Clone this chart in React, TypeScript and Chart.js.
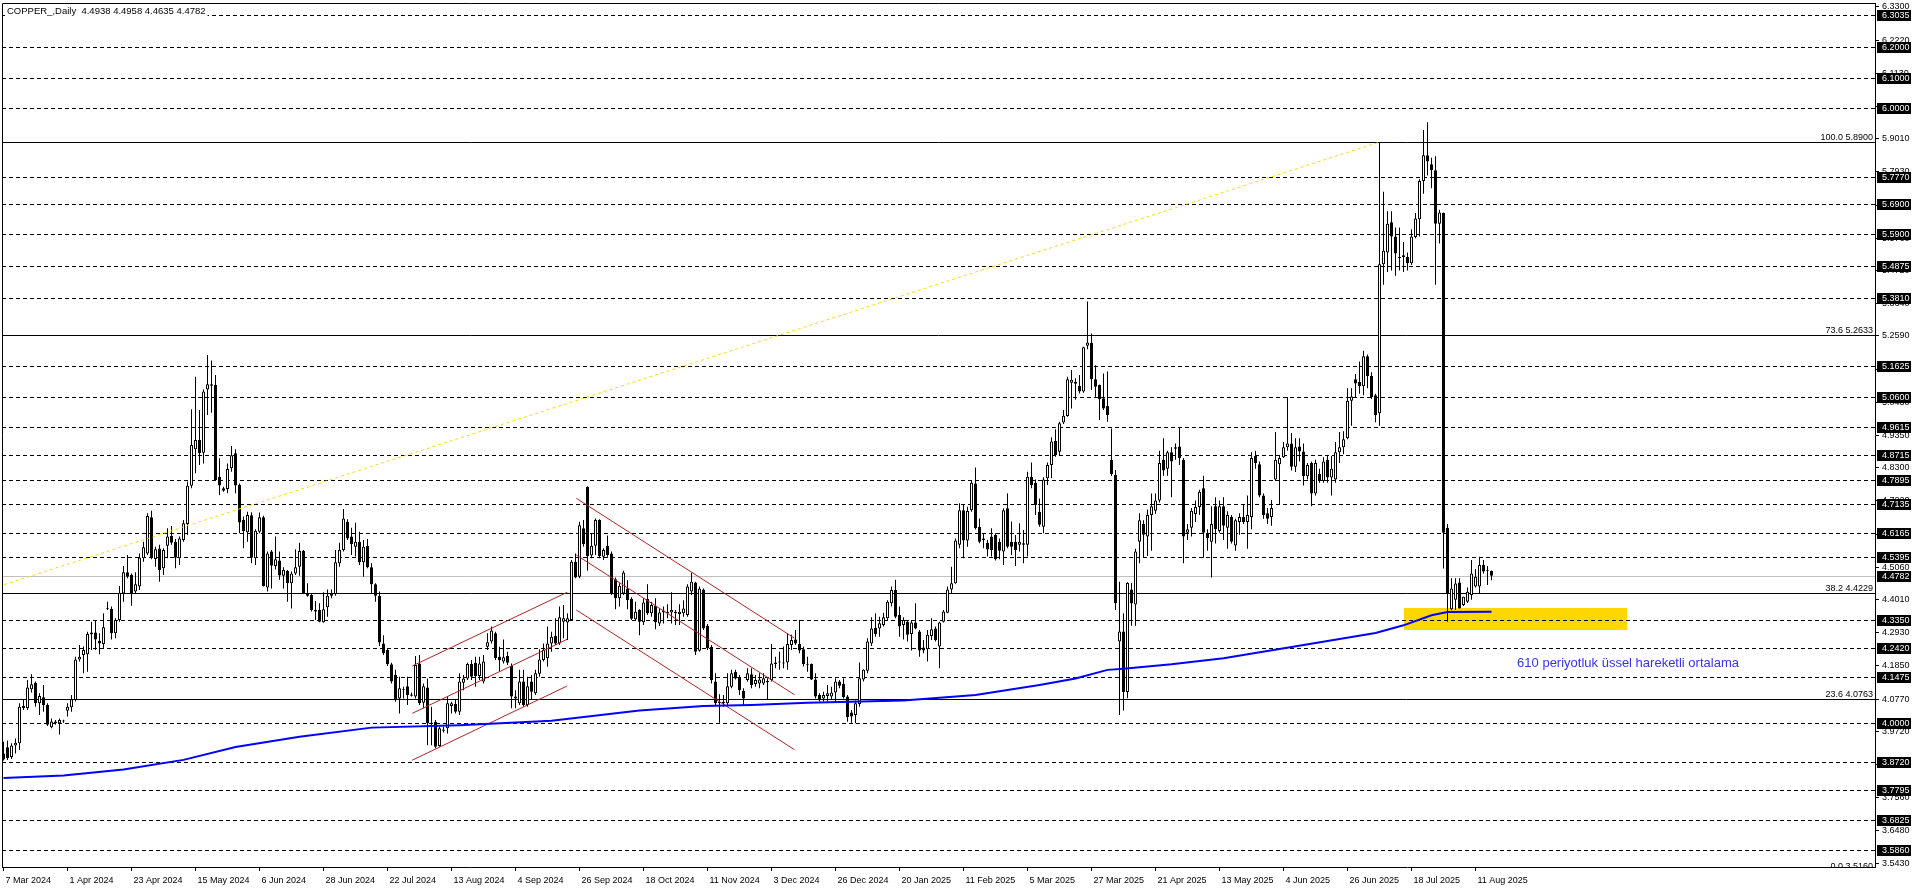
import React, { useEffect, useRef } from 'react';
import { Chart, registerables } from 'chart.js';

Chart.register(...registerables);

const FONT = '"Liberation Sans", Arial, sans-serif';

// ---- candle data (daily bars, index 0 = 7 Mar 2024) ----
const opens = [
  3.900,3.920,3.888,3.926,3.933,4.055,4.047,4.109,4.130,4.063,
  4.083,4.058,3.985,4.004,3.998,4.004,4.039,4.050,4.074,4.206,
  4.220,4.223,4.288,4.294,4.267,4.256,4.369,4.370,4.291,4.334,
  4.421,4.490,4.481,4.427,4.443,4.535,4.551,4.669,4.533,4.567,
  4.503,4.576,4.608,4.589,4.535,4.595,4.647,4.771,4.890,4.920,
  4.879,5.085,5.102,5.099,4.801,4.763,4.761,4.828,4.877,4.774,
  4.660,4.620,4.675,4.535,4.622,4.669,4.440,4.557,4.510,4.528,
  4.478,4.494,4.454,4.486,4.508,4.560,4.421,4.416,4.367,4.367,
  4.327,4.376,4.413,4.419,4.519,4.562,4.654,4.606,4.573,4.589,
  4.522,4.575,4.506,4.451,4.413,4.258,4.237,4.190,4.155,4.079,
  4.106,4.119,4.088,4.085,4.193,4.065,4.115,4.000,4.003,3.924,
  3.974,3.982,4.054,4.061,4.036,4.130,4.144,4.191,4.195,4.152,
  4.134,4.247,4.264,4.291,4.215,4.199,4.217,4.185,4.079,4.063,
  4.134,4.058,4.134,4.096,4.159,4.204,4.210,4.258,4.282,4.258,
  4.329,4.326,4.334,4.524,4.475,4.633,4.768,4.544,4.576,4.660,
  4.540,4.576,4.551,4.467,4.405,4.421,4.437,4.403,4.337,4.367,
  4.327,4.403,4.356,4.381,4.323,4.365,4.356,4.359,4.361,4.354,
  4.356,4.351,4.427,4.456,4.234,4.434,4.316,4.247,4.134,4.068,
  4.063,4.063,4.117,4.166,4.147,4.104,4.139,4.158,4.126,4.128,
  4.128,4.136,4.139,4.191,4.196,4.193,4.196,4.253,4.271,4.256,
  4.239,4.191,4.191,4.141,4.090,4.079,4.087,4.085,4.098,4.134,
  4.126,4.085,4.033,4.025,4.061,4.141,4.169,4.258,4.309,4.307,
  4.318,4.340,4.389,4.432,4.351,4.318,4.329,4.289,4.326,4.297,
  4.245,4.239,4.282,4.307,4.248,4.329,4.358,4.434,4.454,4.579,
  4.692,4.593,4.692,4.779,4.638,4.600,4.586,4.606,4.611,4.589,
  4.557,4.698,4.589,4.589,4.579,4.584,4.579,4.801,4.781,4.687,
  4.638,4.796,4.839,4.917,4.882,4.977,4.998,5.107,5.110,5.096,
  5.078,5.227,5.237,5.118,5.099,5.056,5.031,4.855,4.806,4.264,
  4.297,4.100,4.434,4.385,4.589,4.647,4.606,4.676,4.690,4.723,
  4.856,4.827,4.880,4.892,4.899,4.856,4.618,4.635,4.679,4.702,
  4.763,4.618,4.589,4.705,4.624,4.705,4.635,4.670,4.577,4.653,
  4.670,4.653,4.670,4.868,4.841,4.740,4.682,4.670,4.792,4.841,
  4.864,4.897,4.909,4.833,4.899,4.883,4.802,4.845,4.746,4.810,
  4.787,4.856,4.798,4.792,4.880,4.897,4.926,5.048,5.118,5.109,
  5.095,5.193,5.129,5.066,5.007,5.492,5.531,5.629,5.583,5.516,
  5.522,5.516,5.496,5.581,5.639,5.763,5.847,5.818,5.798,5.624,
  5.659,4.635,4.369,4.400,4.456,4.383,4.394,4.416,4.443,4.443,
  4.513,4.495,4.4938,
];
const highs = [
  3.938,3.942,3.933,3.949,4.063,4.076,4.139,4.158,4.134,4.096,
  4.123,4.063,4.014,4.009,4.014,4.010,4.063,4.090,4.215,4.253,
  4.248,4.296,4.329,4.334,4.291,4.356,4.394,4.378,4.340,4.445,
  4.510,4.546,4.486,4.490,4.551,4.589,4.682,4.690,4.573,4.579,
  4.568,4.633,4.640,4.598,4.606,4.660,4.785,5.020,5.126,5.018,
  5.085,5.197,5.179,5.132,4.861,4.768,4.844,4.901,4.890,4.779,
  4.671,4.687,4.685,4.630,4.684,4.674,4.557,4.562,4.606,4.557,
  4.506,4.497,4.492,4.565,4.586,4.562,4.454,4.421,4.396,4.389,
  4.425,4.434,4.434,4.562,4.586,4.696,4.662,4.635,4.651,4.622,
  4.595,4.598,4.519,4.454,4.427,4.285,4.242,4.195,4.172,4.150,
  4.117,4.150,4.098,4.217,4.220,4.128,4.144,4.052,4.009,3.987,
  3.987,4.085,4.068,4.074,4.161,4.155,4.195,4.204,4.215,4.215,
  4.220,4.291,4.313,4.296,4.247,4.271,4.231,4.193,4.106,4.172,
  4.172,4.150,4.155,4.172,4.239,4.258,4.313,4.296,4.340,4.378,
  4.383,4.356,4.530,4.551,4.654,4.660,4.770,4.616,4.665,4.662,
  4.568,4.609,4.557,4.473,4.454,4.495,4.464,4.408,4.394,4.369,
  4.405,4.451,4.394,4.405,4.372,4.378,4.386,4.425,4.367,4.386,
  4.399,4.451,4.488,4.459,4.443,4.437,4.321,4.253,4.161,4.093,
  4.090,4.161,4.172,4.172,4.155,4.112,4.177,4.177,4.155,4.161,
  4.161,4.145,4.256,4.215,4.231,4.248,4.291,4.286,4.302,4.334,
  4.248,4.215,4.193,4.161,4.096,4.101,4.123,4.117,4.145,4.139,
  4.145,4.090,4.041,4.072,4.196,4.174,4.275,4.343,4.356,4.345,
  4.358,4.399,4.443,4.465,4.378,4.343,4.334,4.334,4.389,4.302,
  4.269,4.302,4.340,4.313,4.329,4.367,4.443,4.508,4.600,4.714,
  4.709,4.703,4.790,4.831,4.665,4.617,4.595,4.633,4.617,4.600,
  4.698,4.747,4.655,4.611,4.649,4.627,4.817,4.847,4.792,4.730,
  4.799,4.847,4.929,4.955,4.980,5.018,5.126,5.148,5.121,5.132,
  5.224,5.371,5.267,5.164,5.101,5.137,5.143,4.958,4.823,4.459,
  4.356,4.457,4.455,4.566,4.682,4.659,4.694,4.746,4.746,4.885,
  4.926,4.885,4.897,4.909,4.961,4.862,4.647,4.699,4.723,4.758,
  4.804,4.630,4.705,4.734,4.723,4.734,4.688,4.676,4.664,4.682,
  4.711,4.740,4.880,4.885,4.850,4.746,4.699,4.725,4.946,4.868,
  4.914,5.060,4.943,4.926,4.926,4.909,4.845,4.850,4.856,4.827,
  4.864,4.868,4.868,4.914,4.946,4.949,5.089,5.089,5.135,5.176,
  5.211,5.199,5.141,5.071,5.888,5.728,5.665,5.665,5.612,5.612,
  5.565,5.531,5.606,5.659,5.769,5.929,5.955,5.839,5.844,5.670,
  5.661,4.647,4.470,4.470,4.470,4.410,4.440,4.530,4.500,4.540,
  4.530,4.510,4.4958,
];
const lows = [
  3.877,3.879,3.882,3.900,3.911,4.041,4.041,4.098,4.052,4.025,
  4.036,3.989,3.982,3.993,3.962,4.000,4.020,4.036,4.069,4.199,
  4.161,4.166,4.237,4.237,4.223,4.242,4.367,4.271,4.275,4.329,
  4.394,4.470,4.381,4.419,4.432,4.524,4.546,4.532,4.508,4.459,
  4.481,4.535,4.579,4.503,4.513,4.589,4.611,4.763,4.812,4.839,
  4.844,5.002,5.009,4.788,4.741,4.752,4.747,4.817,4.747,4.617,
  4.568,4.589,4.519,4.513,4.617,4.443,4.427,4.437,4.499,4.465,
  4.437,4.394,4.372,4.481,4.478,4.419,4.410,4.362,4.334,4.327,
  4.325,4.345,4.405,4.413,4.508,4.557,4.595,4.546,4.541,4.513,
  4.475,4.503,4.421,4.394,4.250,4.220,4.185,4.128,4.068,4.030,
  4.079,4.058,4.085,4.079,4.058,4.047,3.927,3.927,3.917,3.922,
  3.968,3.965,4.030,4.030,4.025,4.106,4.139,4.139,4.117,4.139,
  4.128,4.237,4.258,4.204,4.166,4.193,4.188,4.047,4.047,4.058,
  4.052,4.052,4.074,4.090,4.150,4.199,4.182,4.231,4.253,4.253,
  4.275,4.269,4.334,4.470,4.470,4.573,4.495,4.535,4.546,4.535,
  4.530,4.540,4.416,4.369,4.378,4.416,4.369,4.334,4.334,4.285,
  4.318,4.351,4.345,4.304,4.315,4.323,4.340,4.323,4.318,4.318,
  4.345,4.345,4.416,4.220,4.231,4.302,4.237,4.128,4.058,4.000,
  4.052,4.058,4.112,4.141,4.090,4.058,4.134,4.112,4.117,4.112,
  4.123,4.074,4.134,4.177,4.172,4.177,4.172,4.237,4.253,4.226,
  4.183,4.166,4.139,4.079,4.069,4.069,4.069,4.074,4.069,4.112,
  4.079,4.003,4.000,3.998,4.052,4.134,4.161,4.250,4.280,4.280,
  4.313,4.334,4.378,4.340,4.280,4.271,4.264,4.235,4.304,4.215,
  4.226,4.199,4.269,4.264,4.177,4.326,4.356,4.421,4.452,4.568,
  4.535,4.573,4.687,4.629,4.584,4.568,4.541,4.541,4.528,4.532,
  4.513,4.568,4.546,4.510,4.557,4.519,4.541,4.763,4.676,4.638,
  4.617,4.774,4.796,4.866,4.871,4.972,4.996,5.023,5.051,5.072,
  5.074,5.216,5.083,5.056,4.985,5.018,4.980,4.803,4.367,4.025,
  4.040,4.080,4.316,4.316,4.519,4.537,4.543,4.560,4.680,4.717,
  4.804,4.804,4.734,4.856,4.839,4.519,4.595,4.606,4.653,4.676,
  4.537,4.560,4.473,4.583,4.618,4.595,4.566,4.583,4.560,4.612,
  4.647,4.566,4.630,4.827,4.734,4.664,4.647,4.641,4.787,4.711,
  4.862,4.885,4.821,4.816,4.850,4.772,4.792,4.705,4.740,4.781,
  4.781,4.781,4.740,4.781,4.845,4.874,4.923,4.967,5.060,5.071,
  5.066,5.089,5.054,4.978,4.967,5.426,5.467,5.472,5.455,5.472,
  5.467,5.472,5.490,5.577,5.583,5.722,5.781,5.740,5.426,5.560,
  4.502,4.329,4.366,4.367,4.372,4.380,4.390,4.400,4.440,4.420,
  4.486,4.448,4.4635,
];
const closes = [
  3.880,3.884,3.926,3.935,4.052,4.047,4.115,4.125,4.063,4.087,
  4.058,3.993,4.004,3.998,4.009,4.006,4.052,4.076,4.206,4.215,
  4.237,4.289,4.294,4.271,4.258,4.311,4.372,4.291,4.334,4.423,
  4.490,4.475,4.419,4.451,4.538,4.571,4.673,4.535,4.565,4.497,
  4.562,4.606,4.586,4.537,4.600,4.649,4.771,4.904,4.920,4.877,
  5.078,5.102,5.097,4.790,4.772,4.755,4.826,4.871,4.772,4.652,
  4.624,4.676,4.537,4.625,4.669,4.445,4.551,4.511,4.532,4.479,
  4.497,4.454,4.486,4.506,4.559,4.421,4.413,4.367,4.362,4.329,
  4.369,4.413,4.421,4.522,4.562,4.665,4.600,4.582,4.589,4.522,
  4.573,4.506,4.451,4.413,4.261,4.226,4.191,4.134,4.074,4.112,
  4.108,4.090,4.092,4.188,4.063,4.119,3.998,3.996,3.922,3.982,
  3.978,4.063,4.063,4.036,4.134,4.144,4.191,4.150,4.152,4.193,
  4.199,4.262,4.300,4.210,4.204,4.213,4.195,4.085,4.085,4.134,
  4.058,4.119,4.101,4.161,4.206,4.237,4.258,4.280,4.258,4.343,
  4.340,4.340,4.524,4.473,4.643,4.582,4.543,4.576,4.660,4.543,
  4.562,4.546,4.421,4.405,4.446,4.489,4.399,4.338,4.361,4.329,
  4.391,4.356,4.383,4.327,4.359,4.359,4.361,4.367,4.356,4.361,
  4.372,4.443,4.459,4.231,4.437,4.307,4.242,4.139,4.063,4.063,
  4.068,4.119,4.161,4.144,4.106,4.079,4.161,4.123,4.139,4.141,
  4.145,4.132,4.193,4.196,4.198,4.196,4.256,4.269,4.258,4.235,
  4.191,4.189,4.141,4.085,4.074,4.090,4.096,4.098,4.134,4.120,
  4.083,4.018,4.020,4.063,4.145,4.172,4.264,4.307,4.288,4.324,
  4.343,4.394,4.432,4.345,4.313,4.334,4.286,4.326,4.307,4.235,
  4.235,4.286,4.304,4.269,4.326,4.362,4.434,4.454,4.593,4.692,
  4.593,4.689,4.781,4.633,4.589,4.595,4.564,4.562,4.532,4.560,
  4.692,4.573,4.573,4.562,4.589,4.579,4.801,4.774,4.709,4.644,
  4.792,4.839,4.915,4.871,4.975,4.999,5.118,5.116,5.103,5.078,
  5.222,5.238,5.118,5.094,5.053,5.023,5.002,4.809,4.389,4.297,
  4.100,4.455,4.388,4.557,4.659,4.612,4.676,4.705,4.723,4.845,
  4.821,4.880,4.850,4.897,4.862,4.606,4.630,4.690,4.702,4.752,
  4.618,4.601,4.647,4.630,4.705,4.641,4.676,4.589,4.659,4.670,
  4.653,4.676,4.862,4.845,4.740,4.676,4.664,4.699,4.856,4.862,
  4.897,4.909,4.833,4.897,4.883,4.802,4.839,4.746,4.845,4.787,
  4.850,4.798,4.827,4.880,4.897,4.923,5.048,5.062,5.104,5.095,
  5.193,5.129,5.060,5.002,5.492,5.536,5.624,5.583,5.527,5.513,
  5.516,5.496,5.583,5.641,5.763,5.847,5.827,5.798,5.624,5.661,
  4.618,4.421,4.437,4.453,4.372,4.410,4.426,4.486,4.475,4.513,
  4.492,4.495,4.4782,
];

// ---- time axis ----
const dateTickBars = [0,16,32,48,64,80,96,112,128,144,160,176,192,208,224,240,256,272,288,304,320,336,352,368];
const dateLabels = ['7 Mar 2024','1 Apr 2024','23 Apr 2024','15 May 2024','6 Jun 2024','28 Jun 2024','22 Jul 2024','13 Aug 2024','4 Sep 2024','26 Sep 2024','18 Oct 2024','11 Nov 2024','3 Dec 2024','26 Dec 2024','20 Jan 2025','11 Feb 2025','5 Mar 2025','27 Mar 2025','21 Apr 2025','13 May 2025','4 Jun 2025','26 Jun 2025','18 Jul 2025','11 Aug 2025'];

// ---- price axis ----
const priceTicks = [6.3300,6.2220,6.1130,6.0050,5.9010,5.7930,5.6850,5.5760,5.4720,5.3640,5.2590,5.1510,5.0430,4.9350,4.8300,4.7220,4.6140,4.5060,4.4010,4.2930,4.1850,4.0770,3.9720,3.8640,3.7560,3.6480,3.5430];
const levelLines = [6.3035,6.2000,6.1000,6.0000,5.7770,5.6900,5.5900,5.4875,5.3810,5.1625,5.0600,4.9615,4.8715,4.7895,4.7135,4.6165,4.5395,4.3350,4.2420,4.1475,4.0000,3.8720,3.7795,3.6825,3.5860];
const lastPrice = 4.4782;
const fibLevels = [100.0, 73.6, 38.2, 23.6, 0.0];
const fibPrices = [5.8900, 5.2633, 4.4229, 4.0763, 3.5160];
const fibTrendBars = [-222.6, 344];
const fibTrendPrices = [3.516, 5.890];

// ---- 610 EMA ----
const emaBars = [0,15,30,45,58,74,92,114,137,159,175,187,201,225,243,259,268,276,280,292,305,319,343,350,357,361,372];
const emaValues = [3.820,3.828,3.848,3.879,3.921,3.954,3.984,3.992,4.006,4.040,4.054,4.058,4.065,4.072,4.090,4.123,4.144,4.172,4.176,4.190,4.210,4.240,4.292,4.317,4.350,4.360,4.361];

// ---- channels ----
const risingBars = [102.2, 140.9];
const risingUpper = [4.1846, 4.4245];
const risingMiddle = [4.0306, 4.2715];
const risingLower = [3.8780, 4.1195];
const fallingBars = [143.2, 197.75];
const fallingUpper = [4.7305, 4.2750];
const fallingMiddle = [4.5459, 4.0910];
const fallingLower = [4.3669, 3.9120];

// ---- support zone & note ----
const zoneBars = [350.1, 405.9];
const zonePrices = [4.302, 4.372];
const noteText = '610 periyotluk üssel hareketli ortalama';
const noteBar = 378.4;
const notePrice = 4.194;
const titleText = 'COPPER_,Daily  4.4938 4.4958 4.4635 4.4782';

const seg = (bars: number[], vals: number[]) => bars.map((b, i) => ({ x: b, y: vals[i] }));

const overlayPlugin = {
  id: 'mtOverlay',
  beforeDatasetsDraw(chart: any) {
    const { ctx, chartArea: a } = chart;
    const xs = chart.scales.x, ys = chart.scales.y;
    const py = (v: number) => Math.round(ys.getPixelForValue(v)) + 0.5;
    ctx.save();
    ctx.beginPath();
    ctx.rect(a.left, a.top, a.right - a.left, a.bottom - a.top);
    ctx.clip();
    const zx1 = Math.round(xs.getPixelForValue(zoneBars[0]));
    const zx2 = Math.round(xs.getPixelForValue(zoneBars[1]));
    const zy1 = Math.round(ys.getPixelForValue(zonePrices[1]));
    const zy2 = Math.round(ys.getPixelForValue(zonePrices[0]));
    ctx.fillStyle = '#FFD700';
    ctx.fillRect(zx1, zy1, zx2 - zx1, zy2 - zy1);
    ctx.lineWidth = 1;
    ctx.strokeStyle = '#000';
    ctx.setLineDash([4, 3]);
    levelLines.forEach((v) => {
      const y = py(v);
      ctx.beginPath(); ctx.moveTo(a.left, y); ctx.lineTo(a.right, y); ctx.stroke();
    });
    ctx.setLineDash([]);
    ctx.strokeStyle = '#C0C0C0';
    {
      const y = py(lastPrice);
      ctx.beginPath(); ctx.moveTo(a.left, y); ctx.lineTo(a.right, y); ctx.stroke();
    }
    ctx.strokeStyle = '#000';
    ctx.fillStyle = '#000';
    ctx.font = `9px ${FONT}`;
    ctx.textAlign = 'right';
    ctx.textBaseline = 'alphabetic';
    fibPrices.forEach((v, i) => {
      const y = py(v);
      ctx.beginPath(); ctx.moveTo(a.left, y); ctx.lineTo(a.right, y); ctx.stroke();
      ctx.fillText(`${fibLevels[i].toFixed(1)} ${v.toFixed(4)}`, a.right - 2, y - 2.5);
    });
    ctx.restore();
  },
  afterDraw(chart: any) {
    const { ctx, chartArea: a } = chart;
    const xs = chart.scales.x, ys = chart.scales.y;
    ctx.save();
    ctx.strokeStyle = '#000';
    ctx.lineWidth = 1;
    ctx.beginPath();
    ctx.moveTo(a.left + 0.5, a.bottom);
    ctx.lineTo(a.left + 0.5, a.top + 0.5);
    ctx.lineTo(a.right, a.top + 0.5);
    ctx.stroke();
    ctx.font = `9.5px ${FONT}`;
    ctx.textAlign = 'left';
    ctx.textBaseline = 'middle';
    const tw = ctx.measureText(titleText).width;
    ctx.fillStyle = '#fff';
    ctx.fillRect(a.left + 3, a.top + 2, tw + 4, 12);
    ctx.fillStyle = '#000';
    ctx.fillText(titleText, a.left + 5, a.top + 8.5);
    ctx.font = `13px ${FONT}`;
    ctx.fillStyle = '#3535E6';
    ctx.fillText(noteText, xs.getPixelForValue(noteBar), ys.getPixelForValue(notePrice));
    ctx.font = `9px ${FONT}`;
    [...levelLines, lastPrice].forEach((v) => {
      const y = Math.round(ys.getPixelForValue(v));
      ctx.fillStyle = '#000';
      ctx.fillRect(a.right + 2, y - 5, 34, 11);
      ctx.fillStyle = '#fff';
      ctx.fillText(v.toFixed(4), a.right + 7, y + 0.5);
    });
    ctx.restore();
  },
};

export default function App() {
  const ref = useRef<HTMLCanvasElement>(null);
  useEffect(() => {
    document.body.style.margin = '0';
    const canvas = ref.current!;
    const wickData = highs.map((h, i) => ({ x: i, y: [lows[i], h] }));
    const bodyData = opens.map((o, i) => ({ x: i, y: [Math.min(o, closes[i]), Math.max(o, closes[i])] }));
    const bodyColors = opens.map((o, i) => (closes[i] >= o ? '#ffffff' : '#000000'));
    const red = 'rgb(178,34,34)';
    const lineDs = (data: any[], color: string, width: number, order: number, dash: number[] = []) => ({
      type: 'line', data, borderColor: color, borderWidth: width, borderDash: dash,
      pointRadius: 0, tension: 0, fill: false, order,
    });
    const chart = new Chart(canvas, {
      type: 'bar',
      data: {
        datasets: [
          { type: 'bar', data: wickData, backgroundColor: '#000', borderWidth: 0, barThickness: 1, grouped: false, order: 6, inflateAmount: 0 } as any,
          { type: 'bar', data: bodyData, backgroundColor: bodyColors, borderColor: '#000', borderWidth: 1, borderSkipped: false, barThickness: 3, grouped: false, order: 5, inflateAmount: 0, minBarLength: 1 } as any,
          lineDs(seg(fibTrendBars, fibTrendPrices), '#FFD700', 1, 3, [3, 3]),
          lineDs(seg(risingBars, risingUpper), red, 1, 3),
          lineDs(seg(risingBars, risingMiddle), red, 1, 3),
          lineDs(seg(risingBars, risingLower), red, 1, 3),
          lineDs(seg(fallingBars, fallingUpper), red, 1, 3),
          lineDs(seg(fallingBars, fallingMiddle), red, 1, 3),
          lineDs(seg(fallingBars, fallingLower), red, 1, 3),
          lineDs(seg(emaBars, emaValues), '#0000FF', 2, 1),
        ] as any,
      },
      options: {
        animation: false,
        responsive: false,
        devicePixelRatio: 1,
        events: [],
        layout: { padding: { left: 2, top: 3, right: 0, bottom: 0 } },
        plugins: { legend: { display: false }, tooltip: { enabled: false }, title: { display: false } },
        scales: {
          x: {
            type: 'linear',
            min: -0.375,
            max: 467.875,
            offset: false,
            bounds: 'data',
            afterBuildTicks: (s: any) => { s.ticks = dateTickBars.map((v) => ({ value: v })); },
            afterFit: (s: any) => { s.height = 21; s.paddingLeft = 0; s.paddingRight = 0; },
            ticks: {
              autoSkip: false, maxRotation: 0, minRotation: 0, align: 'start', labelOffset: 2, padding: 4,
              color: '#000', font: { family: FONT, size: 9 },
              callback: (_v: any, i: number) => dateLabels[i],
            },
            grid: { display: true, drawOnChartArea: false, drawTicks: true, tickLength: 4, color: '#000', offset: false },
            border: { display: true, color: '#000', width: 1 },
          },
          y: {
            type: 'linear',
            position: 'right',
            min: 3.5303,
            max: 6.3428,
            bounds: 'data',
            afterBuildTicks: (s: any) => { s.ticks = priceTicks.map((v) => ({ value: v })); },
            afterFit: (s: any) => { s.width = 41; s.paddingTop = 0; s.paddingBottom = 0; },
            ticks: {
              autoSkip: false, padding: 3, color: '#000', font: { family: FONT, size: 9 },
              callback: (v: any) => Number(v).toFixed(4),
            },
            grid: { display: true, drawOnChartArea: false, drawTicks: true, tickLength: 4, color: '#000' },
            border: { display: true, color: '#000', width: 1 },
          },
        },
      } as any,
      plugins: [overlayPlugin],
    });
    return () => chart.destroy();
  }, []);
  return (
    <canvas
      ref={ref}
      width={1916}
      height={888}
      style={{ display: 'block', width: 1916, height: 888 }}
    />
  );
}
